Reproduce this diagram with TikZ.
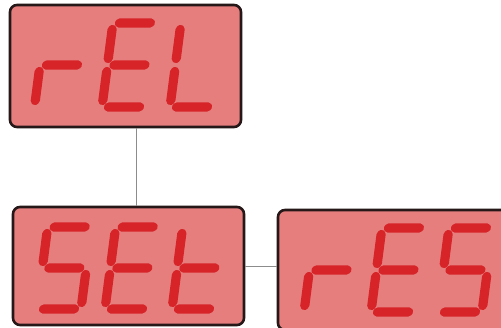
\documentclass[tikz,border=0pt]{standalone}
\begin{document}
\begin{tikzpicture}[x=1pt,y=1pt,
  lcd/.style={draw=lcdborder,line width=2.6pt,fill=lcdfill,rounded corners=7pt,inner sep=0pt},
  segfill/.style={fill=segred,draw=none,rounded corners=1.8pt},
  link/.style={draw=linkgray,line width=0.7pt}]
\definecolor{lcdfill}{RGB}{230,126,126}
\definecolor{lcdborder}{RGB}{38,24,24}
\definecolor{segred}{RGB}{214,36,40}
\definecolor{linkgray}{RGB}{140,140,140}
\useasboundingbox (0,0) rectangle (501,328);
\clip (0,0) rectangle (501,328);
\fill[white] (0,0) rectangle (501,328);
% segment geometry (local units)
\def\W{44}\def\H{84}\def\G{1.2}\def\T{4.6}\def\P{3.2}
\newcommand\hseg[3]{\fill[segfill] (#1,#3) -- ({#1+\P},{#3+\T}) -- ({#2-\P},{#3+\T}) -- (#2,#3) -- ({#2-\P},{#3-\T}) -- ({#1+\P},{#3-\T}) -- cycle;}
\newcommand\vseg[3]{\fill[segfill] (#1,#2) -- ({#1+\T},{#2-\P}) -- ({#1+\T},{#3+\P}) -- (#1,#3) -- ({#1-\T},{#3+\P}) -- ({#1-\T},{#2-\P}) -- cycle;}
\newcommand\segA{\hseg{\G}{\W-\G}{\H}}
\newcommand\segB{\vseg{\W}{\H-\G}{\H/2+\G}}
\newcommand\segC{\vseg{\W}{\H/2-\G}{\G}}
\newcommand\segD{\hseg{\G}{\W-\G}{0}}
\newcommand\segE{\vseg{0}{\H/2-\G}{\G}}
\newcommand\segF{\vseg{0}{\H-\G}{\H/2+\G}}
\newcommand\segG{\hseg{\G}{\W-\G}{\H/2}}
\newcommand\digit[3]{\begin{scope}[shift={(#1,{328-#2})},xslant=0.13]#3\end{scope}}
% boxes
\node[lcd,minimum width=231pt,minimum height=122pt] (rel) at (125.5,262) {};
\node[lcd,minimum width=231pt,minimum height=118pt] (set) at (128.5,62) {};
\node[lcd,minimum width=232pt,minimum height=120pt] (res) at (394,58) {};
% connectors
\draw[link] ([xshift=10.5pt]rel.south) -- ([xshift=7.5pt]set.north);
\draw[link] (set.east) -- (res.west |- set.east);
% rEL
\def\H{84}
\digit{34.5}{107}{\segE\segG}
\digit{102}{107}{\segA\segD\segE\segF\segG}
\digit{170}{107}{\segD\segE\segF}
% SEt
\def\H{82}
\digit{37}{309}{\segA\segC\segD\segF\segG}
\digit{105}{309}{\segA\segD\segE\segF\segG}
\digit{172}{309}{\segD\segE\segF\segG}
% rES
\def\H{84}
\digit{304}{312}{\segE\segG}
\digit{371}{312}{\segA\segD\segE\segF\segG}
\digit{438}{312}{\segA\segC\segD\segF\segG}
\end{tikzpicture}
\end{document}
